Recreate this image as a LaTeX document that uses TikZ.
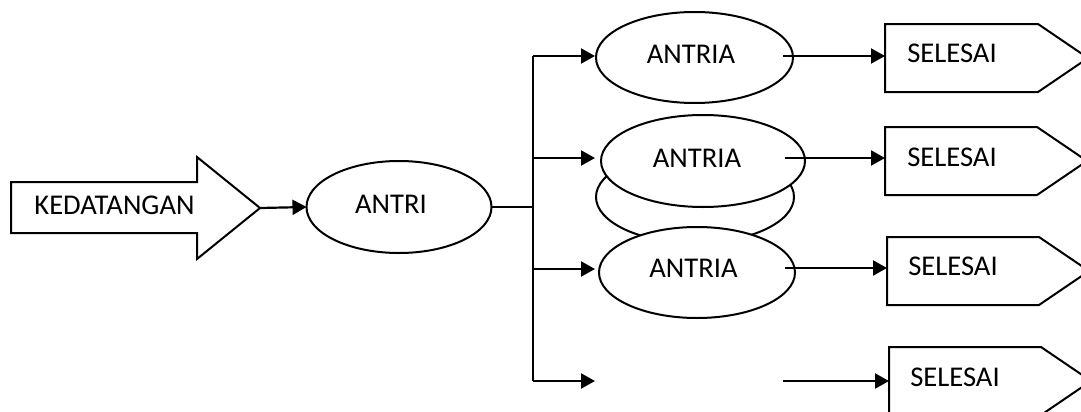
\documentclass[tikz,border=0pt]{standalone}
\usepackage{fontspec}
\setmainfont{Carlito}
\usetikzlibrary{shapes.geometric,arrows.meta}

\tikzset{
  stroke/.style={line width=1pt, line join=miter},
  oval/.style={stroke, draw, fill=white, ellipse, inner sep=0pt, outer sep=0pt},
  flow/.style={line width=1.1pt, -{Triangle[length=7pt,width=7.5pt]}},
  plain/.style={line width=1pt},
  lbl/.style={inner sep=0pt, font=\fontsize{14.3}{17}\selectfont, anchor=base},
}

\begin{document}
\begin{tikzpicture}[x=0.5pt, y=-0.5pt]
  \useasboundingbox (0,0) rectangle (1081,412);
  \clip (0,0) rectangle (1081,412);

  % arrival block arrow
  \draw[stroke] (11,182) -- (197,182) -- (197,157) -- (260,208) -- (197,259)
    -- (197,233) -- (11,233) -- cycle;
  \coordinate (kedTip) at (260,208);
  \node[lbl, anchor=base west] (ked) at (34,214) {KEDATANGAN};

  % queue ellipse
  \node[oval, minimum width=92.5pt, minimum height=46pt] (antri) at (399,207) {};
  \node[lbl] (antriT) at (391,213) {ANTRI};
  \draw[flow] (kedTip) -- (antri.west);

  % service ellipses (one partly hidden behind the others)
  \node[oval, minimum width=99pt, minimum height=46pt] (aHid) at (695,197) {};
  \node[oval, minimum width=98.5pt, minimum height=45.5pt] (a1) at (694.5,57.5) {};
  \node[oval, minimum width=102pt, minimum height=46pt] (a2) at (703,161) {};
  \node[oval, minimum width=98pt, minimum height=45.5pt] (a3) at (697,272.5) {};
  \node[lbl] (a1T) at (691,63) {ANTRIA};
  \node[lbl] (a2T) at (697,167) {ANTRIA};
  \node[lbl] (a3T) at (693.5,277) {ANTRIA};

  % branching line
  \coordinate (bus) at (533,207);
  \coordinate (b1) at (533,56);
  \coordinate (b2) at (533,158);
  \coordinate (b3) at (533,269);
  \coordinate (b4) at (533,381);
  \draw[plain] (antri.east) -- (bus);
  \draw[plain] (b1) -- (b4);
  \coordinate (e1) at (595,56);
  \coordinate (e2) at (595,158);
  \coordinate (e3) at (595,269);
  \coordinate (e4) at (595,381);
  \draw[flow] (b1) -- (e1);
  \draw[flow] (b2) -- (e2);
  \draw[flow] (b3) -- (e3);
  \draw[flow] (b4) -- (e4);

  % end blocks
  \draw[stroke] (885,24) -- (1038,24) -- (1088,58) -- (1038,92) -- (885,92) -- cycle;
  \draw[stroke] (885,127) -- (1037,127) -- (1087,161) -- (1037,195) -- (885,195) -- cycle;
  \draw[stroke] (887,237) -- (1039,237) -- (1089,271) -- (1039,305) -- (887,305) -- cycle;
  \draw[stroke] (889,347) -- (1041,347) -- (1091,381) -- (1041,415) -- (889,415) -- cycle;
  \coordinate (s1) at (885,56);
  \coordinate (s2) at (885,158);
  \coordinate (s3) at (887,268);
  \coordinate (s4) at (889,381);
  \node[lbl] (s1T) at (952,62) {SELESAI};
  \node[lbl] (s2T) at (952,166) {SELESAI};
  \node[lbl] (s3T) at (953,275) {SELESAI};
  \node[lbl] (s4T) at (955,386) {SELESAI};

  % outgoing arrows
  \coordinate (o1) at (783,56);
  \coordinate (o2) at (785,158);
  \coordinate (o3) at (785,268);
  \coordinate (o4) at (783,381);
  \draw[flow] (o1) -- (s1);
  \draw[flow] (o2) -- (s2);
  \draw[flow] (o3) -- (s3);
  \draw[flow] (o4) -- (s4);
\end{tikzpicture}
\end{document}
